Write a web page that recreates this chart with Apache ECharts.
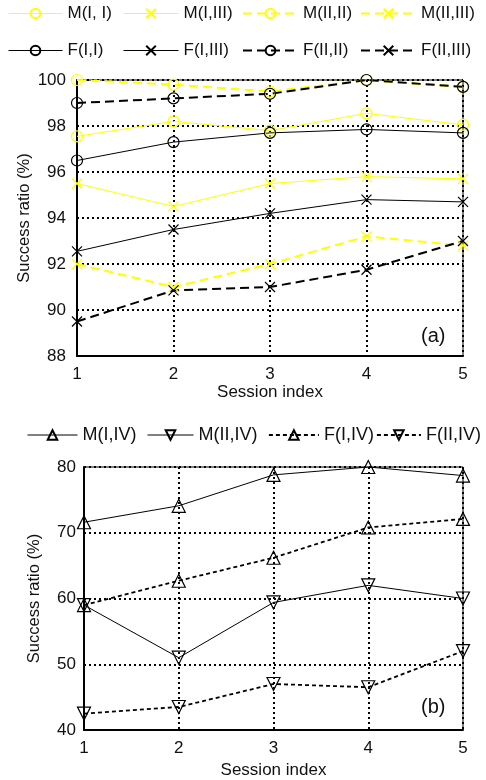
<!DOCTYPE html>
<html>
<head>
<meta charset="utf-8">
<script src="https://cdn.jsdelivr.net/npm/echarts@6/dist/echarts.min.js"></script>
<style>html,body{margin:0;padding:0;background:#fff}#c{width:486px;height:780px}</style>
</head>
<body>
<div id="c"></div>
<script>
const sessions = [1, 2, 3, 4, 5];
// Chart (a)
const M_I_I   = [97.55, 98.2, 97.8, 98.55, 98.05];
const M_I_III = [95.5, 94.5, 95.5, 95.8, 95.7];
const M_II_II = [100.0, 99.8, 99.5, 100.0, 99.7];
const M_II_III= [92.0, 91.0, 92.0, 93.2, 92.8];
const F_I_I   = [96.5, 97.3, 97.7, 97.85, 97.7];
const F_I_III = [92.55, 93.5, 94.2, 94.8, 94.7];
const F_II_II = [99.0, 99.2, 99.4, 100.0, 99.7];
const F_II_III= [89.5, 90.85, 91.0, 91.75, 93.0];
// Chart (b)
const M_I_IV  = [71.6, 74.1, 78.8, 80.0, 78.7];
const M_II_IV = [59.0, 51.0, 59.4, 62.0, 60.0];
const F_I_IV  = [59.0, 62.7, 66.2, 70.8, 72.1];
const F_II_IV = [42.5, 43.5, 47.0, 46.5, 52.0];
const yTicksA = [88, 90, 92, 94, 96, 98, 100];
const yTicksB = [40, 50, 60, 70, 80];

const FONT = 'Liberation Sans, Arial, sans-serif';
const YEL = '#ffff00', BLK = '#000000';
const CROSS = 'path://M0,0L10,10M10,0L0,10';

function pairs(arr){ return arr.map((v,i)=>[sessions[i], v]); }

function mk(name, arr, color, dashed, sym, gi, opts){
  opts = opts || {};
  return {
    name: name, type: 'line', xAxisIndex: gi, yAxisIndex: gi,
    data: pairs(arr),
    symbol: sym, symbolSize: opts.size || 11, symbolRotate: opts.rot || 0,
    showAllSymbol: true,
    lineStyle: { color: color, width: dashed ? (opts.dw || 2) : 1, type: dashed ? (opts.dash || [9,5]) : 'solid' },
    itemStyle: { color: 'rgba(0,0,0,0)', borderColor: color, borderWidth: opts.bw || 1.2 },
    emphasis: { disabled: true },
    animation: false,
    z: opts.z || 2
  };
}

const series = [
  mk('M(I, I)', M_I_I, YEL, false, 'circle', 0),
  mk('M(I,III)', M_I_III, YEL, false, CROSS, 0, {size: 10}),
  mk('M(II,II)', M_II_II, YEL, true, 'circle', 0),
  mk('M(II,III)', M_II_III, YEL, true, CROSS, 0, {size: 10}),
  mk('F(I,I)', F_I_I, BLK, false, 'circle', 0),
  mk('F(I,III)', F_I_III, BLK, false, CROSS, 0, {size: 10}),
  mk('F(II,II)', F_II_II, BLK, true, 'circle', 0),
  mk('F(II,III)', F_II_III, BLK, true, CROSS, 0, {size: 10}),
  mk('M(I,IV)', M_I_IV, BLK, false, 'triangle', 1, {size: 13}),
  mk('M(II,IV)', M_II_IV, BLK, false, 'triangle', 1, {size: 13, rot: 180}),
  mk('F(I,IV)', F_I_IV, BLK, true, 'triangle', 1, {size: 13, dw: 1.8, dash: [4,3]}),
  mk('F(II,IV)', F_II_IV, BLK, true, 'triangle', 1, {size: 13, rot: 180, dw: 1.8, dash: [4,3]})
];

function leg(name, left, cy, w, fs, lw){
  return {
    data: [name], left: left, top: cy - 10, itemWidth: w, itemHeight: 12, itemGap: 0,
    textStyle: { fontFamily: FONT, fontSize: fs, color: '#111' },
    lineStyle: { width: lw },
    selectedMode: false, padding: 0
  };
}

const legends = [
  leg('M(I, I)', 8, 15, 54, 17, 1), leg('M(I,III)', 123, 15, 55, 17, 1), leg('M(II,II)', 242, 15, 55, 17, 2), leg('M(II,III)', 360, 15, 55, 17, 2),
  leg('F(I,I)', 8, 52, 54, 17, 1), leg('F(I,III)', 123, 52, 55, 17, 1), leg('F(II,II)', 242, 52, 55, 17, 2), leg('F(II,III)', 360, 52, 55, 17, 2),
  leg('M(I,IV)', 27, 436, 50, 18, 1), leg('M(II,IV)', 147, 436, 46, 18, 1), leg('F(I,IV)', 268, 436, 50, 18, 1.8), leg('F(II,IV)', 376, 436, 44, 18, 1.8)
];

const split = { show: true, lineStyle: { color: '#000', type: [2, 3], width: 2 } };

function xAx(gi, gap){
  return {
    type: 'value', gridIndex: gi, min: 1, max: 5, interval: 1,
    name: 'Session index', nameLocation: 'middle', nameGap: gap, nameMoveOverlap: false,
    nameTextStyle: { fontFamily: FONT, fontSize: 17, color: '#111' },
    axisLine: { show: true, lineStyle: { color: '#000', width: 2 } },
    axisTick: { show: false },
    axisLabel: { fontFamily: FONT, fontSize: 17, color: '#111', margin: 10 },
    splitLine: split
  };
}
function yAx(gi, min, max, iv, gap, lm){
  return {
    type: 'value', gridIndex: gi, min: min, max: max, interval: iv,
    name: 'Success ratio (%)', nameLocation: 'middle', nameGap: gap, nameMoveOverlap: false,
    nameTextStyle: { fontFamily: FONT, fontSize: 16.5, color: '#111' },
    axisLine: { show: true, lineStyle: { color: '#000', width: 2 } },
    axisTick: { show: false },
    axisLabel: { fontFamily: FONT, fontSize: 17, color: '#111', margin: lm },
    splitLine: split
  };
}

const chart = echarts.init(document.getElementById('c'), null, { renderer: 'canvas' });
chart.setOption({
  backgroundColor: '#fff',
  animation: false,
  legend: legends,
  grid: [
    { left: 77, top: 80, width: 386, height: 276, show: true, borderColor: '#000', borderWidth: 1 },
    { left: 84, top: 467, width: 379, height: 263, show: true, borderColor: '#000', borderWidth: 1 }
  ],
  xAxis: [xAx(0, 28), xAx(1, 32)],
  yAxis: [yAx(0, 88, 100, 2, 44, 11), yAx(1, 40, 80, 10, 41, 8)],
  graphic: [
    { type: 'text', left: 421, top: 326, style: { text: '(a)', font: '20px ' + FONT, fill: '#111' } },
    { type: 'text', left: 421, top: 697, style: { text: '(b)', font: '20px ' + FONT, fill: '#111' } }
  ],
  series: series
});
</script>
</body>
</html>
